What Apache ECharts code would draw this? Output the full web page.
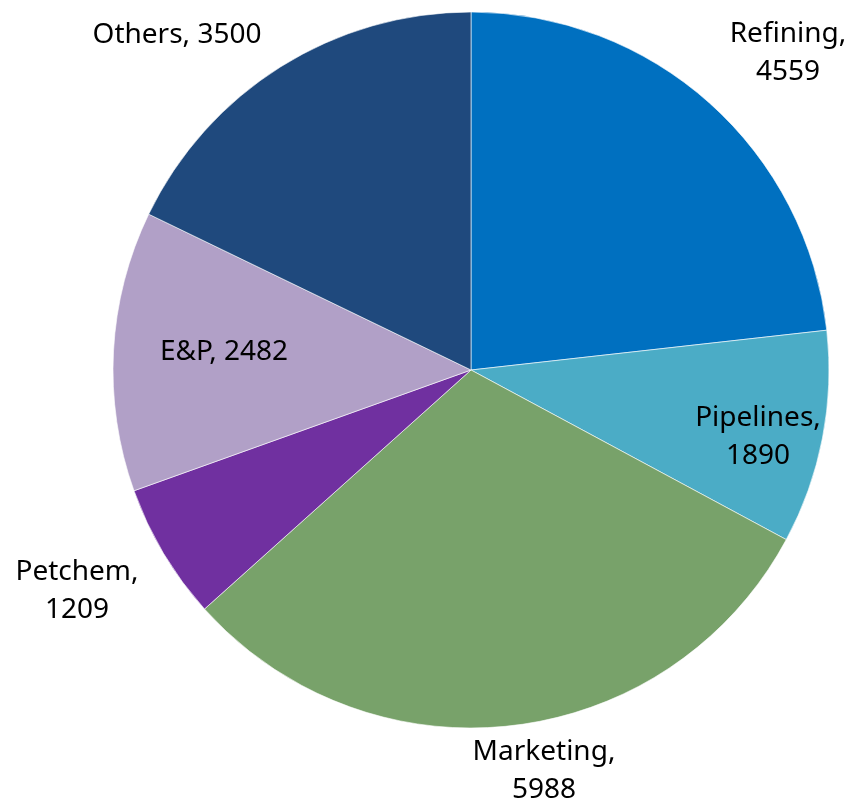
<!DOCTYPE html>
<html>
<head>
<meta charset="utf-8">
<style>
  html, body { margin: 0; padding: 0; background: #ffffff; }
  #chart { width: 846px; height: 802px; }
</style>
<script src="https://cdn.jsdelivr.net/npm/echarts@6/dist/echarts.min.js"></script>
</head>
<body>
<div id="chart"></div>
<script>
// Segment breakdown, clockwise from 12 o'clock
const segments = ['Refining', 'Pipelines', 'Marketing', 'Petchem', 'E&P', 'Others'];
const values = [4559, 1890, 5988, 1209, 2482, 3500];
const colors = ['#0070C0', '#4BACC6', '#78A26A', '#7030A0', '#B1A0C7', '#1F497D'];
// Segments whose label sits on one line
const singleLine = ['E&P', 'Others'];

// Label anchor points (centre of each label block)
const labelAnchors = [
  [788, 53], [758, 437], [544, 771], [77, 591], [224, 352], [177, 35]
];

const chart = echarts.init(document.getElementById('chart'), null, { renderer: 'canvas' });

chart.setOption({
  animation: false,
  backgroundColor: '#ffffff',
  series: [{
    type: 'pie',
    center: [471, 370],
    radius: 358,
    startAngle: 90,
    clockwise: true,
    avoidLabelOverlap: false,
    itemStyle: { borderColor: '#ffffff', borderWidth: 0.6 },
    emphasis: { disabled: true },
    label: {
      show: true,
      position: 'outside',
      fontFamily: '"Noto Sans", "Open Sans", sans-serif',
      fontSize: 28,
      lineHeight: 38,
      color: '#000000',
      align: 'center',
      formatter: p => singleLine.includes(p.name)
        ? p.name + ', ' + p.value
        : p.name + ',\n' + p.value
    },
    labelLine: { show: false },
    labelLayout: p => ({
      x: labelAnchors[p.dataIndex][0],
      y: labelAnchors[p.dataIndex][1],
      align: 'center',
      verticalAlign: 'middle'
    }),
    data: segments.map((name, i) => ({
      name: name,
      value: values[i],
      itemStyle: { color: colors[i] }
    }))
  }]
});
</script>
</body>
</html>
